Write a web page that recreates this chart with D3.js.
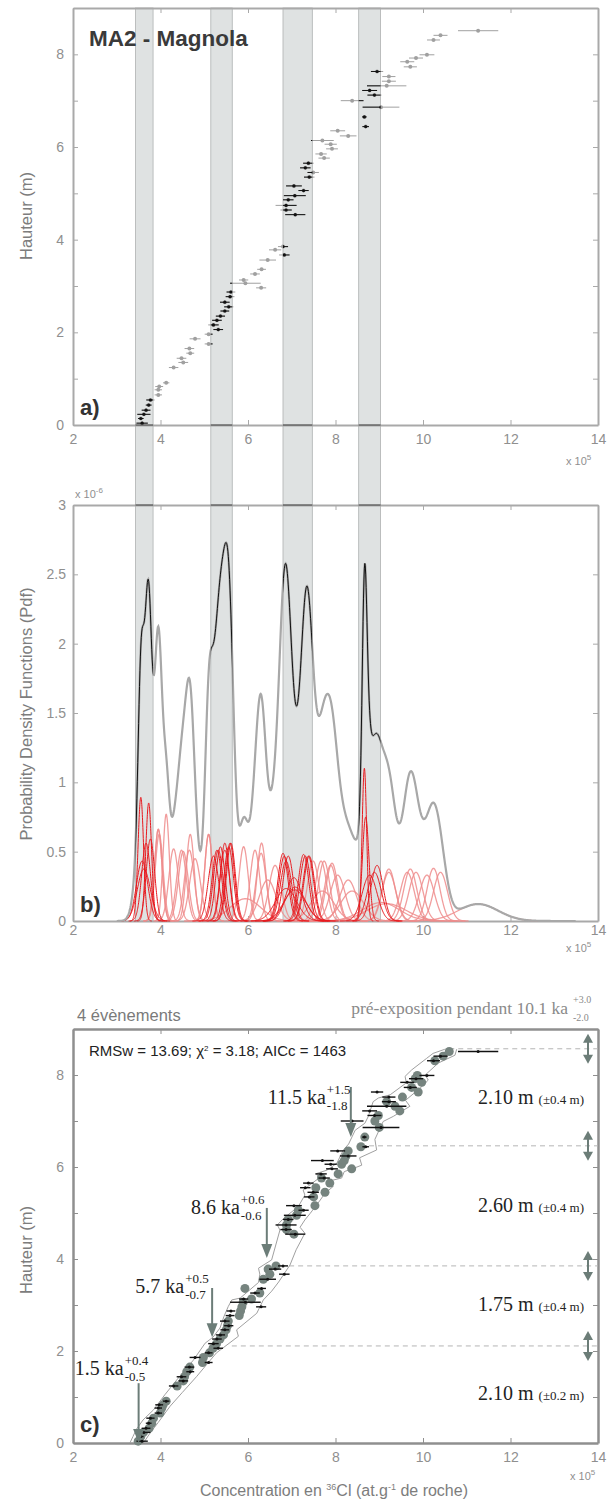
<!DOCTYPE html>
<html>
<head>
<meta charset="utf-8">
<script src="https://cdn.jsdelivr.net/npm/d3@7/dist/d3.min.js"></script>
<style>
body { margin: 0; background: #fff; }
svg text { font-family: "Liberation Sans", Arial, sans-serif; }
svg text.serif { font-family: "Liberation Serif", "Times New Roman", serif; }
</style>
</head>
<body>
<svg id="chart" width="608" height="1499"></svg>
<script>

// samples : height on the scarp (m), 36Cl concentration (x 10^5 at/g), 1 sigma error, modelled concentration
var heights = [0.04,0.14,0.23,0.32,0.43,0.54,0.65,0.76,0.83,0.91,1.24,1.35,1.44,1.55,1.65,1.75,1.86,1.96,2.06,2.16,
  2.26,2.35,2.46,2.55,2.65,2.77,2.87,2.96,3.06,3.13,3.26,3.36,3.56,3.67,3.78,3.85,4.54,4.64,4.74,4.86,
  4.95,5.06,5.16,5.35,5.45,5.55,5.65,5.76,5.85,5.96,6.06,6.14,6.24,6.35,6.44,6.65,6.86,7.00,7.12,7.22,
  7.32,7.42,7.52,7.63,7.73,7.84,7.92,7.99,8.31,8.41,8.51];
var conc = [3.58,3.55,3.62,3.67,3.73,3.77,3.95,3.95,3.97,4.13,4.30,4.52,4.48,4.68,4.66,5.10,4.79,5.10,5.32,5.21,
  5.29,5.37,5.47,5.56,5.47,5.59,5.61,6.30,5.94,5.90,6.16,6.31,6.45,6.83,6.62,6.80,7.08,6.87,6.87,6.92,
  7.07,7.27,7.05,7.40,7.49,7.31,7.38,7.74,7.67,7.92,7.89,7.70,8.29,8.05,8.69,8.66,9.04,8.38,8.89,8.78,
  9.17,9.22,9.22,8.95,9.71,9.64,9.84,10.09,10.24,10.40,11.26];
var concErr = [0.13,0.063,0.15,0.10,0.066,0.095,0.085,0.085,0.09,0.073,0.108,0.112,0.11,0.09,0.11,0.09,0.125,0.09,0.11,0.12,
  0.11,0.105,0.10,0.105,0.11,0.10,0.10,0.115,0.35,0.105,0.11,0.10,0.19,0.12,0.14,0.115,0.23,0.13,0.24,0.12,
  0.25,0.117,0.18,0.12,0.13,0.12,0.12,0.13,0.13,0.135,0.14,0.26,0.19,0.17,0.075,0.051,0.42,0.26,0.16,0.17,
  0.45,0.16,0.15,0.14,0.15,0.16,0.16,0.17,0.148,0.16,0.46];
var modelConc = [3.49,3.55,3.61,3.74,3.80,3.84,3.99,4.03,4.06,4.13,4.38,4.52,4.55,4.60,4.67,4.96,4.98,5.12,5.20,5.28,
  5.36,5.44,5.50,5.53,5.55,5.80,5.83,5.86,5.89,6.08,6.27,5.93,6.35,6.50,6.46,6.64,7.05,6.88,6.88,6.92,
  7.11,7.15,7.53,7.50,7.76,7.55,7.87,7.68,8.06,8.37,8.14,8.20,8.24,8.29,8.58,8.67,9.00,8.90,8.98,9.47,
  9.36,9.17,9.53,9.89,9.74,9.97,9.82,9.87,10.27,10.46,10.60];

// concentration windows of the four events (x 10^5 at/g)
var bandLo = [3.43, 5.15, 6.80, 8.53];
var bandHi = [3.83, 5.64, 7.47, 9.03];

// envelope of the best models (panel c)
var envLeftConc = [3.30,3.37,3.45,3.60,3.84,4.10,4.37,4.75,5.02,5.20,5.36,5.45,5.55,5.63,5.82,6.24,6.27,6.24,6.54,6.73,
  6.67,6.81,7.15,7.30,7.26,7.61,7.57,7.80,8.03,8.18,8.30,8.45,8.67,8.75,8.86,8.98,9.25,9.62,9.59,9.74,10.08,10.23,10.50];
var envLeftH = [0.00,0.14,0.30,0.50,0.72,1.05,1.37,1.80,2.17,2.30,2.50,2.75,2.97,3.11,3.15,3.49,3.67,3.80,3.98,4.63,
  4.74,4.88,5.14,5.39,5.50,5.75,5.86,5.93,6.08,6.37,6.50,6.80,6.95,7.10,7.42,7.50,7.57,7.83,7.97,8.11,8.36,8.47,8.56];
var envRightConc = [3.61,3.75,3.95,4.22,4.50,4.83,5.05,5.28,5.78,5.74,6.20,6.35,6.54,6.70,6.96,7.10,7.30,7.19,7.30,7.42,
  7.65,7.76,7.95,7.83,8.14,8.20,8.41,8.60,8.55,8.94,8.90,9.09,9.32,9.51,9.70,9.60,9.93,10.12,10.05,10.35,10.73,10.77];
var envRightH = [0.00,0.20,0.45,0.80,1.10,1.45,1.70,1.96,2.32,2.46,2.82,3.11,3.30,3.50,3.87,4.20,4.56,4.69,4.85,4.99,
  5.28,5.43,5.58,5.69,5.76,5.90,5.97,6.04,6.20,6.37,6.60,6.99,7.10,7.21,7.32,7.45,7.71,7.89,8.00,8.26,8.43,8.56];

// events
var eventAge = ["1.5", "5.7", "8.6", "11.5"];
var agePlus = ["+0.4", "+0.5", "+0.6", "+1.5"];
var ageMinus = ["-0.5", "-0.7", "-0.6", "-1.8"];
var eventConc = [3.50, 5.18, 6.43, 8.35];
var eventTipH = [0.00, 2.30, 4.02, 6.65];
var breakH = [2.11, 3.85, 6.46, 8.57];
var breakConc = [5.63, 6.94, 8.56, 10.60];
var slipVal = ["2.10 m", "1.75 m", "2.60 m", "2.10 m"];
var slipErr = ["(\u00b10.2 m)", "(\u00b10.4 m)", "(\u00b10.4 m)", "(\u00b10.4 m)"];

var xTicks = [2, 4, 6, 8, 10, 12, 14];
var hTicks = [0, 1, 2, 3, 4, 5, 6, 7, 8, 9];
var pdfTicks = [0, 0.5, 1, 1.5, 2, 2.5, 3];

// layout for labels that are not data marks
var arrowTop = [1.30, 3.37, 5.11, 7.74];      // heights where arrow shafts start
var ageLabelH = [1.48, 3.26, 4.98, 7.37];
var ageLabelDx = [-15, -28, -27, -25];
var slipLabelH = [0.93, 2.87, 5.02, 7.37];

var svg = d3.select("#chart");
var L = 73, R = 598;
var x = d3.scaleLinear().domain([2, 14]).range([L, R]);
var ya = d3.scaleLinear().domain([0, 9]).range([425, 8]);
var yb = d3.scaleLinear().domain([0, 3]).range([921, 505]);
var yc = d3.scaleLinear().domain([0, 9]).range([1443, 1029]);

var axisGrey = "#a9a9a9", labelGrey = "#8f8f8f";

// clip to the event windows
var defs = svg.append("defs");
var clip = defs.append("clipPath").attr("id", "bands");
bandLo.forEach(function (lo, i) {
  clip.append("rect").attr("x", x(lo)).attr("y", 0).attr("width", x(bandHi[i]) - x(lo)).attr("height", 930);
});

// grey bands crossing panels a and b
svg.append("g").selectAll("rect").data(bandLo).enter().append("rect")
  .attr("x", function (d) { return x(d); })
  .attr("y", ya(9))
  .attr("width", function (d, i) { return x(bandHi[i]) - x(d); })
  .attr("height", yb(0) - ya(9))
  .attr("fill", "#dfe2e2").attr("stroke", "#aeb1b1").attr("stroke-width", 0.8);

function drawFrame(y, top, bottom, yt, fmt, col, sw, xPad, yPad) {
  var g = svg.append("g");
  g.append("g").attr("transform", "translate(0," + bottom + ")")
    .call(d3.axisBottom(x).tickValues(xTicks).tickSizeInner(-5).tickSizeOuter(0).tickPadding(xPad).tickFormat(d3.format("d")));
  g.append("g").attr("transform", "translate(0," + top + ")")
    .call(d3.axisTop(x).tickValues(xTicks).tickSizeInner(-5).tickSizeOuter(0).tickFormat(""));
  g.append("g").attr("transform", "translate(" + L + ",0)")
    .call(d3.axisLeft(y).tickValues(yt).tickSizeInner(-5).tickSizeOuter(0).tickPadding(yPad).tickFormat(fmt));
  g.append("g").attr("transform", "translate(" + R + ",0)")
    .call(d3.axisRight(y).tickValues(yt).tickSizeInner(-5).tickSizeOuter(0).tickFormat(""));
  g.selectAll(".domain").attr("stroke", col).attr("stroke-width", sw);
  g.selectAll(".tick line").attr("stroke", col);
  g.selectAll(".tick text").attr("fill", labelGrey).attr("font-size", 14);
  return g;
}

function exponentLabel(px, py, base, exp) {
  var t = svg.append("text").attr("x", px).attr("y", py).attr("fill", labelGrey).attr("font-size", 11).text(base);
  t.append("tspan").attr("dy", -5).attr("font-size", 8).text(exp);
}

function yTitle(cx, cy, txt) {
  svg.append("text").attr("transform", "translate(" + cx + "," + cy + ") rotate(-90)")
    .attr("text-anchor", "middle").attr("fill", "#7d7d7d").attr("font-size", 16.5).text(txt);
}

function panelTag(py, txt) {
  svg.append("text").attr("x", 80).attr("y", py).attr("font-size", 22).attr("font-weight", "bold")
    .attr("fill", "#333").text(txt);
}

// ---------- panel a ----------
drawFrame(ya, ya(9), ya(0), hTicks, function (d) { return d % 2 === 0 ? d : ""; }, axisGrey, 2, 9, 9);
exponentLabel(566, 465, "x 10", "5");
yTitle(32, 216, "Hauteur (m)");
svg.append("text").attr("x", 89).attr("y", 46).attr("font-size", 22.5).attr("font-weight", "bold")
  .attr("fill", "#3a3a3a").text("MA2 - Magnola");
panelTag(415, "a)");

function drawSamples(g, col, r) {
  var s = g.selectAll("g").data(heights).enter().append("g");
  s.append("line")
    .attr("x1", function (d, i) { return x(conc[i] - concErr[i]); })
    .attr("x2", function (d, i) { return x(conc[i] + concErr[i]); })
    .attr("y1", function (d) { return ya(d); }).attr("y2", function (d) { return ya(d); })
    .attr("stroke", col).attr("stroke-width", 1);
  s.append("circle").attr("cx", function (d, i) { return x(conc[i]); })
    .attr("cy", function (d) { return ya(d); }).attr("r", r).attr("fill", col);
}
drawSamples(svg.append("g"), "#a0a0a0", 2);
drawSamples(svg.append("g").attr("clip-path", "url(#bands)"), "#111", 1.6);

// ---------- panel b ----------
drawFrame(yb, yb(3), yb(0), pdfTicks, function (d) { return d; }, axisGrey, 2, 4, 7);
exponentLabel(566, 952, "x 10", "5");
exponentLabel(75, 498, "x 10", "-6");
yTitle(32, 714, "Probability Density Functions (Pdf)");

// dark frame segments where the bands cross the axes
var cross = svg.append("g").attr("clip-path", "url(#bands)");
[ya(0), yb(3)].forEach(function (py) {
  cross.append("line").attr("x1", L).attr("x2", R).attr("y1", py).attr("y2", py)
    .attr("stroke", "#444").attr("stroke-width", 1.2);
});

var N = conc.length;
function gauss(c, s, v) {
  return 10 / (N * s * Math.sqrt(2 * Math.PI)) * Math.exp(-0.5 * ((v - c) / s) * ((v - c) / s));
}
function inBand(c) {
  return bandLo.some(function (lo, i) { return c >= lo && c <= bandHi[i]; });
}
var pdfLine = d3.line().x(function (d) { return x(d[0]); }).y(function (d) { return yb(d[1]); });

var order = d3.range(N).sort(function (a, b) { return inBand(conc[a]) - inBand(conc[b]); });
svg.append("g").selectAll("path").data(order).enter().append("path")
  .attr("d", function (i) {
    var s = concErr[i];
    var pts = d3.range(-4, 4.001, 0.05).map(function (k) { var v = conc[i] + k * s; return [v, gauss(conc[i], s, v)]; });
    return pdfLine(pts);
  })
  .attr("fill", "none")
  .attr("stroke", function (i) { return inBand(conc[i]) ? "#e8191e" : "#ee8c8c"; })
  .attr("stroke-width", function (i) { return inBand(conc[i]) ? 1 : 1.3; })
  .attr("opacity", function (i) { return inBand(conc[i]) ? 1 : 0.85; });

var grid = d3.range(3.0, 13.5, 0.01);
var sumPdf = grid.map(function (v) {
  return [v, d3.sum(conc, function (c, i) { return gauss(c, concErr[i], v); })];
});
svg.append("path").attr("d", pdfLine(sumPdf)).attr("fill", "none").attr("stroke", "#a8a8a8").attr("stroke-width", 2.2);
svg.append("path").attr("d", pdfLine(sumPdf)).attr("fill", "none").attr("stroke", "#111").attr("stroke-width", 1)
  .attr("clip-path", "url(#bands)");
panelTag(912, "b)");

// ---------- panel c ----------
drawFrame(yc, yc(9), yc(0), hTicks, function (d) { return d % 2 === 0 ? d : ""; }, "#8f8f8f", 2.5, 9, 9);
exponentLabel(570, 1480, "x 10", "5");
yTitle(32, 1250, "Hauteur (m)");
var xl = svg.append("text").attr("x", 334).attr("y", 1496).attr("text-anchor", "middle")
  .attr("fill", "#7d7d7d").attr("font-size", 16).text("Concentration en ");
xl.append("tspan").attr("dy", -6).attr("font-size", 9).text("36");
xl.append("tspan").attr("dy", 6).text("Cl (at.g");
xl.append("tspan").attr("dy", -6).attr("font-size", 9).text("-1");
xl.append("tspan").attr("dy", 6).text(" de roche)");

svg.append("text").attr("x", 77).attr("y", 1021).attr("font-size", 16.5).attr("fill", "#7a7a7a").text("4 \u00e9v\u00e8nements");
svg.append("text").attr("class", "serif").attr("x", 568).attr("y", 1014).attr("text-anchor", "end")
  .attr("font-size", 17.5).attr("fill", "#8a8a8a").text("pr\u00e9-exposition pendant 10.1 ka");
svg.append("text").attr("class", "serif").attr("x", 573).attr("y", 1003).attr("font-size", 10).attr("fill", "#8a8a8a").text("+3.0");
svg.append("text").attr("class", "serif").attr("x", 573).attr("y", 1021).attr("font-size", 10).attr("fill", "#8a8a8a").text("-2.0");

var rms = svg.append("text").attr("x", 89).attr("y", 1056).attr("font-size", 15).attr("fill", "#222")
  .text("RMSw = 13.69;  \u03c7");
rms.append("tspan").attr("dy", -5).attr("font-size", 8).text("2");
rms.append("tspan").attr("dy", 5).text(" = 3.18; AICc = 1463");

// dashed lines marking the event limits
svg.append("g").selectAll("line").data(breakH).enter().append("line")
  .attr("x1", function (d, i) { return x(breakConc[i]); }).attr("x2", R)
  .attr("y1", function (d) { return yc(d); }).attr("y2", function (d) { return yc(d); })
  .attr("stroke", "#b5b5b5").attr("stroke-width", 1).attr("stroke-dasharray", "5,4");

// envelope
var envLine = d3.line().x(function (d) { return x(d[0]); }).y(function (d) { return yc(d[1]); });
[[envLeftConc, envLeftH], [envRightConc, envRightH]].forEach(function (e) {
  svg.append("path").attr("d", envLine(e[0].map(function (c, i) { return [c, e[1][i]]; })))
    .attr("fill", "none").attr("stroke", "#a0a0a0").attr("stroke-width", 1);
});

// modelled concentrations
svg.append("g").selectAll("circle").data(heights).enter().append("circle")
  .attr("cx", function (d, i) { return x(modelConc[i]); })
  .attr("cy", function (d) { return yc(d); })
  .attr("r", 4.5).attr("fill", "#76847f");

// measured concentrations
var meas = svg.append("g").selectAll("g").data(heights).enter().append("g");
meas.append("line")
  .attr("x1", function (d, i) { return x(conc[i] - concErr[i]); })
  .attr("x2", function (d, i) { return x(conc[i] + concErr[i]); })
  .attr("y1", function (d) { return yc(d); }).attr("y2", function (d) { return yc(d); })
  .attr("stroke", "#111").attr("stroke-width", 1.4);
meas.append("circle").attr("cx", function (d, i) { return x(conc[i]); })
  .attr("cy", function (d) { return yc(d); }).attr("r", 1.5).attr("fill", "#111");

var arrowCol = "#6c7d78";
// event age arrows
eventAge.forEach(function (a, i) {
  var ax = x(eventConc[i]), tip = yc(eventTipH[i]);
  svg.append("line").attr("x1", ax).attr("x2", ax).attr("y1", yc(arrowTop[i])).attr("y2", tip - 10)
    .attr("stroke", arrowCol).attr("stroke-width", 2);
  svg.append("path").attr("d", "M" + (ax - 5.5) + "," + (tip - 14) + "L" + (ax + 5.5) + "," + (tip - 14) + "L" + ax + "," + tip + "Z")
    .attr("fill", arrowCol);
  var tx = ax + ageLabelDx[i], ty = yc(ageLabelH[i]);
  svg.append("text").attr("class", "serif").attr("x", tx).attr("y", ty).attr("text-anchor", "end")
    .attr("font-size", 20).attr("fill", "#222").text(a + " ka");
  svg.append("text").attr("class", "serif").attr("x", tx + 1).attr("y", ty - 10)
    .attr("font-size", 13).attr("fill", "#222").text(agePlus[i]);
  svg.append("text").attr("class", "serif").attr("x", tx + 1).attr("y", ty + 6)
    .attr("font-size", 13).attr("fill", "#222").text(ageMinus[i]);
});

// double arrows on the right and slip values
breakH.forEach(function (h) {
  var ax = R - 10, cy = yc(h);
  svg.append("line").attr("x1", ax).attr("x2", ax).attr("y1", cy - 8).attr("y2", cy + 8)
    .attr("stroke", arrowCol).attr("stroke-width", 2);
  svg.append("path").attr("d", "M" + (ax - 5) + "," + (cy - 6) + "L" + (ax + 5) + "," + (cy - 6) + "L" + ax + "," + (cy - 15) + "Z").attr("fill", arrowCol);
  svg.append("path").attr("d", "M" + (ax - 5) + "," + (cy + 6) + "L" + (ax + 5) + "," + (cy + 6) + "L" + ax + "," + (cy + 15) + "Z").attr("fill", arrowCol);
});
slipVal.forEach(function (v, i) {
  var t = svg.append("text").attr("class", "serif").attr("x", R - 14).attr("y", yc(slipLabelH[i]))
    .attr("text-anchor", "end").attr("font-size", 20).attr("fill", "#222").text(v + " ");
  t.append("tspan").attr("font-size", 13).text(slipErr[i]);
});
panelTag(1432, "c)");
</script>
</body>
</html>
